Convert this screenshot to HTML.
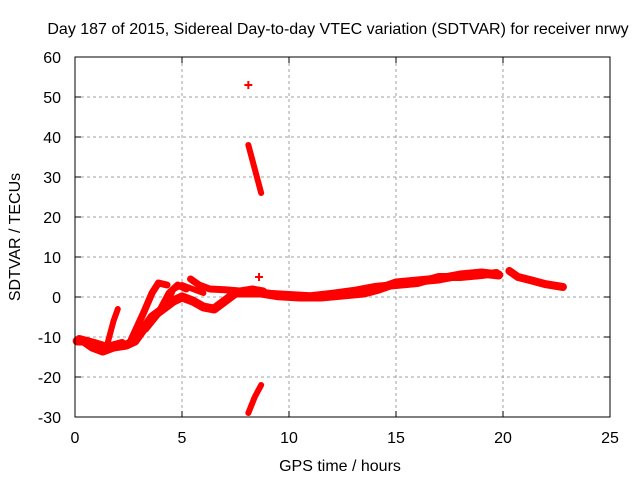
<!DOCTYPE html>
<html><head><meta charset="utf-8"><style>
body{margin:0;background:#fff}
svg text{font-family:"Liberation Sans",sans-serif;font-size:16px;fill:#000}
</style></head><body>
<svg id="chart" width="640" height="480">
<text x="338" y="34" text-anchor="middle">Day 187 of 2015, Sidereal Day-to-day VTEC variation (SDTVAR) for receiver nrwy</text>
<text x="340" y="471" text-anchor="middle">GPS time / hours</text>
<text transform="translate(20,237) rotate(-90)" text-anchor="middle">SDTVAR / TECUs</text>
<g id="grid"></g><g id="ticks"></g><g id="marks"></g>
<rect x="75" y="57" width="535" height="360" fill="none" stroke="#000" stroke-width="1"/>
</svg>
<script>
const xTicks=[0,5,10,15,20,25];
const yTicks=[-30,-20,-10,0,10,20,30,40,50,60];
// tracks: [hour, value] pairs
const trackMain=[[0.1,-11],[0.4,-11],[0.8,-12.5],[1.3,-13.5],[1.8,-12.5],[2.4,-12],[2.8,-11],[3.2,-8],[3.6,-5],[4.1,-3],[4.6,-1],[5.0,0],[5.5,-1],[6.0,-2.5],[6.5,-3],[7.0,-1],[7.5,1],[8.0,1],[8.7,1],[9.5,0.3],[10.5,0],[11.5,0],[12.5,0.5],[13.5,1],[14.2,2],[15,3.5],[16,4],[17,4.5],[18,5.5],[19,6],[19.8,5.5]];
const trackMain2=[[0.2,-10.5],[0.9,-11.5],[1.5,-12.5],[2.2,-11.5],[9,0.8],[10,0.5],[11,0.2],[12,0.8],[13,1.5],[14,2.5],[15,3],[16,3.5],[17,5],[18,5],[19,5.5],[19.7,6]];
const trackTail=[[20.3,6.5],[20.7,5],[21.3,4.2],[22,3.2],[22.8,2.5]];
const trackRise1=[[1.5,-12],[1.8,-6],[2.0,-3]];
const trackRise2=[[2.6,-11],[3.2,-4],[3.6,1],[3.9,3.5],[4.3,3]];
const trackRise3=[[3.3,-8],[3.9,-4],[4.4,1],[4.8,3],[5.2,2]];
const trackRise4=[[4.2,-3],[4.6,2],[5.0,3],[5.5,2],[6.0,1]];
const trackUpper=[[5.4,4.5],[5.8,3],[6.3,2],[7.0,1.8],[7.7,1.5],[8.3,2],[8.8,1.5]];
const trackSpikeUp=[[8.1,38],[8.4,32],[8.7,26]];
const trackSpikeDown=[[8.1,-29],[8.4,-25],[8.7,-22]];
const singlePoints=[[8.1,53],[8.6,5]];
const X=h=>75+h*535/25, Y=v=>297-v*4;
const NS="http://www.w3.org/2000/svg";
function mk(t,a,p){const e=document.createElementNS(NS,t);for(const k in a)e.setAttribute(k,a[k]);p.appendChild(e);return e;}
const grid=document.getElementById('grid'),ticks=document.getElementById('ticks'),marks=document.getElementById('marks');
xTicks.forEach(t=>{
 if(t>0&&t<25){const l=mk('line',{x1:X(t),x2:X(t),y1:57,y2:417,stroke:'#a0a0a0','stroke-dasharray':'3,3'},grid);
 
 }
 mk('line',{x1:X(t),x2:X(t),y1:417,y2:411,stroke:'#000'},ticks);mk('line',{x1:X(t),x2:X(t),y1:57,y2:63,stroke:'#000'},ticks);
 const tx=mk('text',{x:X(t),y:443,'text-anchor':'middle'},ticks);tx.textContent=t;
 
 
});
yTicks.forEach(t=>{
 if(t>-30&&t<60){const l=mk('line',{x1:75,x2:610,y1:Y(t),y2:Y(t),stroke:'#a0a0a0','stroke-dasharray':'3,3'},grid);
 
 }
 mk('line',{x1:75,x2:81,y1:Y(t),y2:Y(t),stroke:'#000'},ticks);mk('line',{x1:610,x2:604,y1:Y(t),y2:Y(t),stroke:'#000'},ticks);
 const tx=mk('text',{x:61,y:Y(t)+6,'text-anchor':'end'},ticks);tx.textContent=t;
 
 
});
function track(arr,w,name){
 const p=mk('polyline',{points:arr.map(d=>X(d[0])+','+Y(d[1])).join(' '),fill:'none',stroke:'#f00','stroke-width':w,'stroke-linejoin':'round','stroke-linecap':'round'},marks);
 
 
}
track(trackMain,9,'sdtvar-main-track');
track(trackMain2.slice(0,4),8,'sdtvar-main-track-2a');
track(trackMain2.slice(4),8,'sdtvar-main-track-2b');
track(trackTail,8,'sdtvar-tail-track');
track(trackRise1,6,'sdtvar-rise-1');
track(trackRise2,7,'sdtvar-rise-2');
track(trackRise3,7,'sdtvar-rise-3');
track(trackRise4,6,'sdtvar-rise-4');
track(trackUpper,7,'sdtvar-upper-track');
track(trackSpikeUp,6,'sdtvar-spike-up');
track(trackSpikeDown,6,'sdtvar-spike-down');
singlePoints.forEach(d=>{
 const g=mk('path',{d:`M${X(d[0])-4},${Y(d[1])}h8M${X(d[0])},${Y(d[1])-4}v8`,stroke:'#f00','stroke-width':2},marks);
 
 
});
</script>
</body></html>
